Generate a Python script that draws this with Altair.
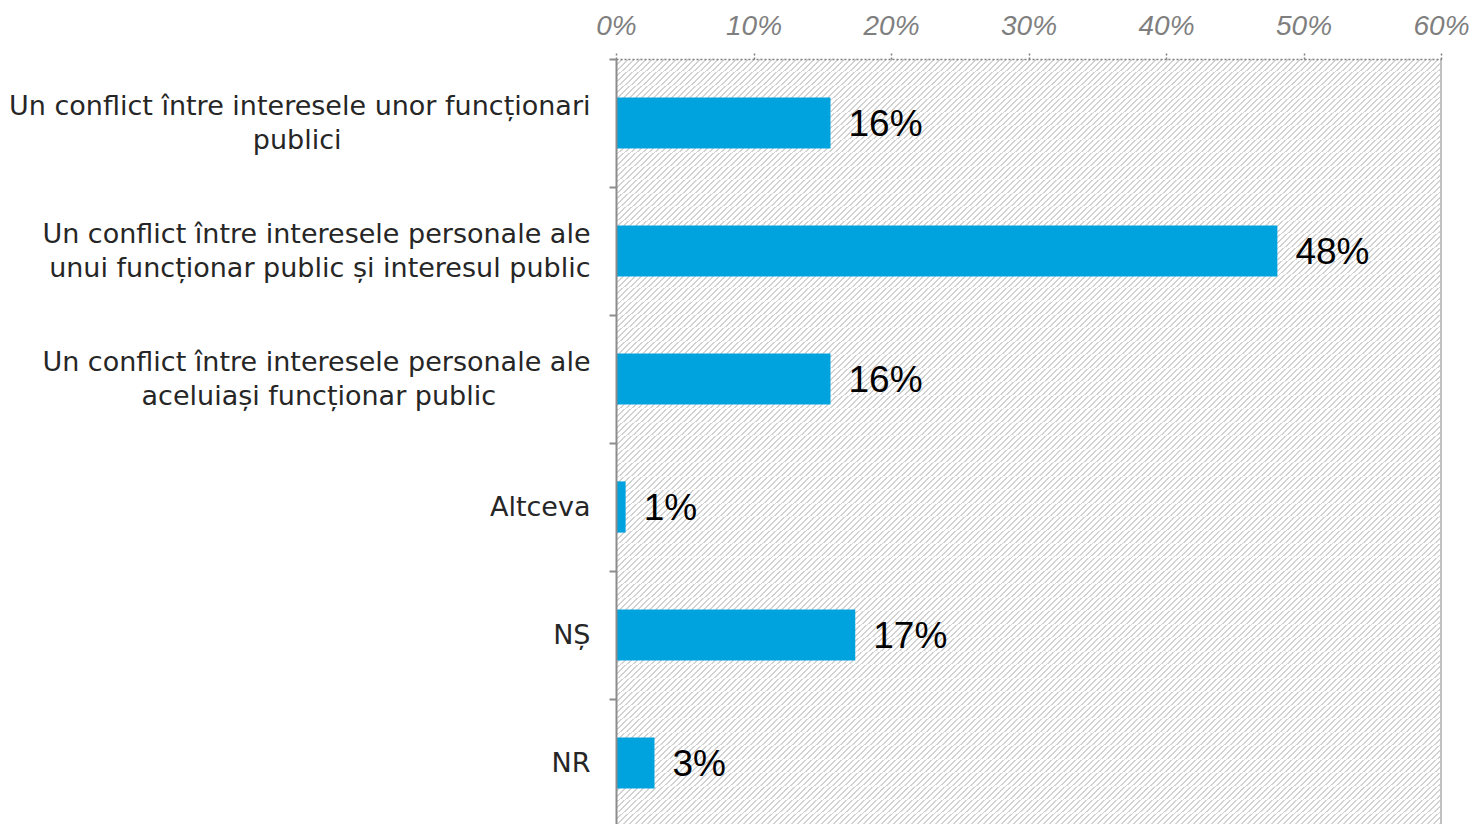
import altair as alt
import pandas as pd

categories = [
    "Un conflict între interesele unor funcționari\npublici",
    "Un conflict între interesele personale ale\nunui funcționar public și interesul public",
    "Un conflict între interesele personale ale\naceluiași funcționar public",
    "Altceva",
    "NȘ",
    "NR",
]
values = [0.156, 0.481, 0.156, 0.007, 0.174, 0.028]
x_ticks = [0, 0.1, 0.2, 0.3, 0.4, 0.5, 0.6]

df = pd.DataFrame({"cat": categories, "val": values})

# centre the short second lines of wrapped labels under the first line
NBSP = "\u00a0"
ZWSP = "\u200b"
pad1 = NBSP * 29 + ZWSP
pad2 = NBSP * 11 + ZWSP
lines = "split(datum.label, '\\n')"
label_expr = (
    f"indexof(datum.label, '\\n') >= 0 ? [{lines}[0], {lines}[1] + "
    f"(indexof(datum.label, 'publici') >= 0 ? '{pad1}' : "
    f"indexof(datum.label, 'aceluia') >= 0 ? '{pad2}' : '')] : datum.label"
)

# hatch background (diagonal stripes) as a gradient with hard stops
stops = []
n = 275
for k in range(n):
    a = k / n
    b = (k + 0.32) / n
    c = (k + 1) / n
    stops += [
        alt.GradientStop(offset=a, color="#d2d2d2"),
        alt.GradientStop(offset=b, color="#d2d2d2"),
        alt.GradientStop(offset=b, color="#ffffff"),
        alt.GradientStop(offset=c, color="#ffffff"),
    ]
hatch = alt.Gradient(gradient="linear", stops=stops, x1=0, y1=0, x2=1, y2=1)

xscale = alt.Scale(domain=[0, 0.6], nice=False, zero=True)

bg = alt.Chart(pd.DataFrame({"a": [0]})).mark_rect(fill=hatch, strokeWidth=0).encode(
    x=alt.X("a:Q", scale=xscale), x2=alt.datum(0.6)
)

border = alt.Chart(pd.DataFrame({"a": [0.6]})).mark_rule(color="#c0c0c0", strokeWidth=2).encode(
    x=alt.X("a:Q", scale=xscale)
)

y_enc = alt.Y(
    "cat:N",
    sort=None,
    scale=alt.Scale(paddingInner=0.6, paddingOuter=0.3),
    axis=alt.Axis(
        title=None,
        labelExpr=label_expr,
        labelFont="DejaVu Sans",
        labelFontSize=27,
        labelLineHeight=34,
        labelColor="#262626",
        labelAlign="right",
        labelBaseline="middle",
        tickOffset=-64,
        labelOffset={"condition": {"test": "indexof(datum.value, '\\n') >= 0", "value": 47}, "value": 64},
        labelPadding=19,
        labelLimit=800,
        tickSize=7,
        tickColor="#8c8c8c",
        tickWidth=2,
        domainColor="#8c8c8c",
        domainWidth=2,
        zindex=1,
    ),
)

bars = alt.Chart(df).mark_bar(color="#00A3DD").encode(
    x=alt.X(
        "val:Q",
        scale=xscale,
        axis=alt.Axis(
            orient="top",
            title=None,
            values=x_ticks,
            format=".0%",
            labelFont="Liberation Sans",
            labelFontSize=28,
            labelFontStyle="italic",
            labelColor="#7f7f7f",
            labelPadding=11,
            labelFlush=False,
            tickSize=8,
            tickColor="#808080",
            tickDash=[2, 2],
            tickWidth=1.5,
            domainColor="#808080",
            domainDash=[2, 2],
            domainWidth=1.5,
            grid=False,
            zindex=1,
        ),
    ),
    y=y_enc,
)

labels = alt.Chart(df).mark_text(
    align="left", baseline="middle", dx=18, dy=2, font="Liberation Sans", fontSize=37, color="#000000"
).encode(
    x=alt.X("val:Q", scale=xscale),
    y=alt.Y("cat:N", sort=None),
    text=alt.Text("val:Q", format=".0%"),
)

chart = (
    alt.layer(bg, border, bars, labels)
    .properties(
        width=825,
        height=768,
        autosize=alt.AutoSizeParams(type="none"),
        padding={"left": 608, "top": 51, "right": 28, "bottom": 0},
    )
    .configure_view(stroke=None)
    .configure_axis(grid=False)
)

chart.save("out.html", embed_options={"renderer": "svg", "actions": False})
